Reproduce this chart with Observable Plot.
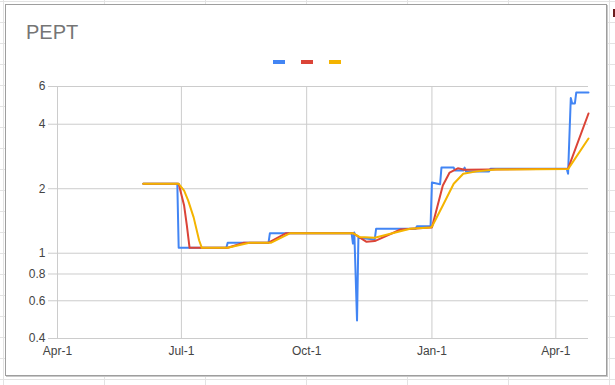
<!DOCTYPE html>
<html>
<head>
<meta charset="utf-8">
<script src="https://cdn.jsdelivr.net/npm/d3@7"></script>
<script src="https://cdn.jsdelivr.net/npm/@observablehq/plot@0.6"></script>
<style>
  html, body { margin: 0; padding: 0; }
  body {
    width: 615px; height: 385px; overflow: hidden; position: relative;
    background-color: #fff;
    background-image: linear-gradient(to right, #e3e3e3 1px, transparent 1px),
                      linear-gradient(to bottom, #e3e3e3 1px, transparent 1px);
    background-size: 101px 21px;
    background-position: 3px 1px;
    font-family: "Liberation Sans", Arial, sans-serif;
  }
  #box {
    position: absolute; left: 5px; top: 4px; width: 600px; height: 370px;
    background: #fff; border: 1px solid #9e9e9e; box-shadow: 1px 1px 0 #c8c8c8;
  }
  #chart { position: absolute; left: 0; top: 0; }
  #title {
    position: absolute; left: 26px; top: 21px; font-size: 20px; color: #757575;
    font-family: "Liberation Sans", Arial, sans-serif;
  }
  .lg { position: absolute; top: 60px; width: 12px; height: 4px; }
  #mark { position: absolute; left: 613px; top: 9px; width: 2px; height: 8px; background: #6b1d1d; }
</style>
</head>
<body>
<div id="box"></div>
<div id="mark"></div>
<div id="chart"></div>
<div id="title">PEPT</div>
<div id="legend"></div>
<script>
// ---- data ----
const seriesNames = ["blue", "red", "yellow"];
const seriesColors = ["#4285F4", "#DB4437", "#F4B400"];

const blueDates = ["2019-06-03","2019-06-28","2019-06-29","2019-08-03","2019-08-04","2019-09-03","2019-09-04","2019-11-03","2019-11-04","2019-11-05","2019-11-07","2019-11-08","2019-11-20","2019-11-21","2019-12-20","2019-12-21","2019-12-31","2020-01-01","2020-01-07","2020-01-08","2020-01-17","2020-01-18","2020-01-24","2020-01-25","2020-01-26","2020-02-12","2020-02-13","2020-04-09","2020-04-10","2020-04-12","2020-04-13","2020-04-15","2020-04-16","2020-04-25"];
const blueValues = [2.11,2.11,1.06,1.06,1.12,1.12,1.24,1.24,1.11,1.25,0.485,1.18,1.16,1.30,1.30,1.335,1.335,2.14,2.10,2.51,2.51,2.43,2.43,2.51,2.41,2.41,2.48,2.48,2.35,5.3,5.0,5.0,5.62,5.62];

const redDates = ["2019-06-03","2019-06-29","2019-07-03","2019-07-05","2019-07-07","2019-08-04","2019-08-16","2019-09-03","2019-09-16","2019-11-04","2019-11-14","2019-11-20","2019-12-09","2019-12-31","2020-01-01","2020-01-09","2020-01-14","2020-01-20","2020-01-25","2020-02-13","2020-04-10","2020-04-25"];
const redValues = [2.11,2.11,1.67,1.35,1.06,1.06,1.12,1.12,1.24,1.24,1.13,1.14,1.29,1.32,1.32,2.07,2.38,2.49,2.45,2.46,2.48,4.49];

const yellowDates = ["2019-06-03","2019-06-29","2019-07-03","2019-07-06","2019-07-10","2019-07-14","2019-07-16","2019-08-04","2019-08-20","2019-09-05","2019-09-19","2019-11-04","2019-11-09","2019-11-20","2019-12-16","2019-12-31","2020-01-01","2020-01-09","2020-01-17","2020-01-24","2020-02-03","2020-02-17","2020-04-10","2020-04-25"];
const yellowValues = [2.11,2.11,1.96,1.76,1.47,1.15,1.06,1.06,1.12,1.12,1.24,1.24,1.19,1.18,1.30,1.32,1.33,1.67,2.11,2.35,2.41,2.46,2.47,3.43];

const xTickDates = ["2019-04-01","2019-07-01","2019-10-01","2020-01-01","2020-04-01"];
const yTicks = [0.4, 0.6, 0.8, 1, 2, 4, 6];
const xDomain = ["2019-04-01", "2020-04-25"];
const yDomain = [0.4, 6];

// ---- build ----
const parse = d3.utcParse("%Y-%m-%d");
const allDates = [blueDates, redDates, yellowDates];
const allValues = [blueValues, redValues, yellowValues];
const rows = [];
seriesNames.forEach((name, i) => {
  allDates[i].forEach((d, j) => rows.push({series: name, date: parse(d), value: allValues[i][j]}));
});
const xTicks = xTickDates.map(parse);
const fmt = d3.utcFormat("%b-%-d");

const lineMarks = seriesNames.map((name, i) =>
  Plot.line(rows.filter(r => r.series === name), {
    x: "date", y: "value", stroke: seriesColors[i], strokeWidth: 2, curve: "linear"
  })
);

const chart = Plot.plot({
  width: 615,
  height: 385,
  marginLeft: 57,
  marginRight: 27,
  marginTop: 86,
  marginBottom: 47,
  style: {background: "transparent", fontFamily: "'Liberation Sans', Arial, sans-serif", fontSize: "12px", color: "#444"},
  x: {type: "utc", domain: xDomain.map(parse), label: null},
  y: {type: "log", domain: yDomain, label: null},
  marks: [
    Plot.gridX(xTicks, {stroke: "#cccccc", strokeOpacity: 1}),
    Plot.gridY(yTicks, {stroke: "#cccccc", strokeOpacity: 1}),
    Plot.axisY(yTicks, {tickSize: 9, stroke: "#cccccc", tickFormat: () => "", label: null}),
    Plot.text(yTicks, {y: d => d, frameAnchor: "left", dx: -12, textAnchor: "end", text: d => String(d), fill: "#444", fontSize: 12}),
    Plot.axisX(xTicks, {tickSize: 0, tickPadding: 8, tickFormat: fmt, fill: "#444", label: null}),
    ...lineMarks
  ]
});
document.getElementById("chart").appendChild(chart);

// legend (unlabeled colour swatches)
const legend = document.getElementById("legend");
seriesColors.forEach((c, i) => {
  const s = document.createElement("div");
  s.className = "lg";
  s.style.left = (273 + 28 * i) + "px";
  s.style.background = c;
  legend.appendChild(s);
});
</script>
</body>
</html>
